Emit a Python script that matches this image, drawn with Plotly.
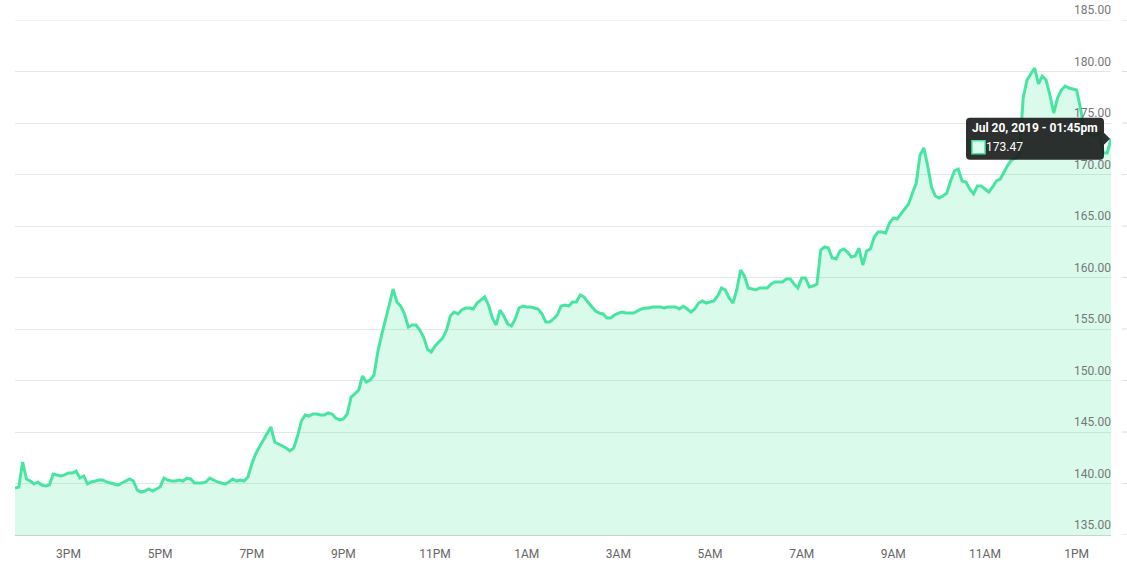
import pandas as pd
import plotly.graph_objects as go

# ---- data ----
start_time = "2019-07-19 13:50"
interval = "5min"
prices = [
    139.56, 139.66, 142.09, 140.44, 140.24, 139.95, 140.15, 139.85, 139.76, 139.85,
    140.92, 140.83, 140.73, 140.83, 141.02, 141.02, 141.21, 140.53, 140.73, 139.95,
    140.15, 140.24, 140.34, 140.34, 140.15, 140.05, 139.95, 139.85, 140.05, 140.24,
    140.44, 140.24, 139.37, 139.17, 139.27, 139.47, 139.27, 139.47, 139.66, 140.53,
    140.34, 140.24, 140.24, 140.34, 140.24, 140.53, 140.44, 140.05, 140.05, 140.05,
    140.15, 140.53, 140.34, 140.15, 140.05, 139.95, 140.15, 140.44, 140.24, 140.34,
    140.24, 140.63, 141.89, 142.86, 143.54, 144.22, 144.90, 145.49, 144.03, 143.83,
    143.64, 143.45, 143.16, 143.45, 144.61, 146.07, 146.65, 146.55, 146.75, 146.75,
    146.65, 146.65, 146.85, 146.75, 146.36, 146.17, 146.26, 146.75, 148.40, 148.69,
    149.08, 150.44, 149.86, 150.05, 150.53, 152.77, 154.42, 155.78, 157.33, 158.88,
    157.62, 157.23, 156.46, 155.19, 155.39, 155.39, 154.90, 154.22, 153.06, 152.77,
    153.35, 153.74, 154.13, 154.90, 156.26, 156.65, 156.46, 156.84, 157.04, 157.04,
    156.94, 157.52, 157.82, 158.11, 157.33, 156.07, 155.39, 156.84, 156.26, 155.49,
    155.29, 155.97, 157.04, 157.23, 157.14, 157.14, 157.04, 156.94, 156.46, 155.68,
    155.68, 155.97, 156.36, 157.23, 157.33, 157.23, 157.62, 157.62, 158.30,
    158.11, 157.62, 157.14, 156.75, 156.55, 156.46, 156.07, 156.07, 156.36, 156.55,
    156.65, 156.55, 156.55, 156.55, 156.75, 156.94, 157.04, 157.04, 157.14, 157.14,
    157.14, 157.04, 157.14, 157.14, 157.14, 156.94, 157.23, 156.94, 156.65, 156.94,
    157.52, 157.72, 157.52, 157.62, 157.72, 158.20, 158.98, 158.79, 158.01, 157.52,
    158.79, 160.73, 160.15, 158.98, 158.88, 158.79, 158.98, 158.98, 158.98, 159.37,
    159.56, 159.56, 159.56, 159.86, 159.86, 159.37, 158.98, 159.95, 159.95, 159.08,
    159.17, 159.37, 162.67, 162.96, 162.86, 161.89, 161.80, 162.57, 162.77, 162.48,
    161.99, 162.09, 162.86, 161.21, 162.57, 162.77, 163.93, 164.42, 164.42, 164.32,
    165.29, 165.78, 165.68, 166.17, 166.65, 167.14, 168.20, 169.17, 171.89, 172.57,
    170.83, 168.79, 167.91, 167.72, 167.91, 168.20, 169.37, 170.34, 170.53, 169.37,
    169.27, 168.59, 168.11, 168.88, 168.88, 168.59, 168.30, 168.79, 169.37, 169.56,
    170.24, 170.92, 171.41, 171.60, 171.89, 177.43, 179.17, 179.76, 180.34, 178.79,
    179.56, 179.17, 177.72, 175.97, 177.43, 178.20, 178.59, 178.40, 178.30, 178.20,
    176.46, 174.32, 173.93, 173.83, 173.74, 174.03, 172.09, 172.09, 173.47,
]
x_tick_times = [
    "2019-07-19 15:00", "2019-07-19 17:00", "2019-07-19 19:00", "2019-07-19 21:00",
    "2019-07-19 23:00", "2019-07-20 01:00", "2019-07-20 03:00", "2019-07-20 05:00",
    "2019-07-20 07:00", "2019-07-20 09:00", "2019-07-20 11:00", "2019-07-20 13:00",
]
x_tick_labels = ["3PM", "5PM", "7PM", "9PM", "11PM", "1AM", "3AM", "5AM",
                 "7AM", "9AM", "11AM", "1PM"]
y_ticks = [135, 140, 145, 150, 155, 160, 165, 170, 175, 180, 185]
tooltip_title = "Jul 20, 2019 - 01:45pm"

times = pd.date_range(start_time, periods=len(prices), freq=interval)

LINE = "#48e5a2"
FILL = "rgba(72,229,160,0.2)"
FONT = "Roboto"
TIP_BG = "rgba(28,30,29,0.92)"
GRID = "#e6e6e6"

fig = go.Figure()
fig.add_trace(go.Scatter(
    x=times, y=prices, mode="lines",
    line=dict(color=LINE, width=3),
    fill="tozeroy", fillcolor=FILL,
    hoverinfo="skip",
))

last_t = times[-1]
last_v = prices[-1]

shapes = []
# top gridline (at the very edge of the range)
shapes.append(dict(type="line", xref="paper", yref="y", x0=0, x1=1,
                   y0=y_ticks[-1], y1=y_ticks[-1], layer="below",
                   line=dict(color=GRID, width=1)))
# small outside tick marks to the right of the plot
for v in y_ticks:
    shapes.append(dict(type="line", xref="paper", yref="y", x0=1.0100, x1=1.0146,
                       y0=v, y1=v, line=dict(color="#dedede", width=1)))

# tooltip box (rounded) with pointer, in pixels relative to the last point
L, R, T, B, r = -145, -7, 21, -21, 4
tip_path = (
    f"M {L + r},{T} L {R - r},{T} Q {R},{T} {R},{T - r} "
    f"L {R},6 L -1,0 L {R},-6 "
    f"L {R},{B + r} Q {R},{B} {R - r},{B} "
    f"L {L + r},{B} Q {L},{B} {L},{B + r} "
    f"L {L},{T - r} Q {L},{T} {L + r},{T} Z"
)
shapes.append(dict(type="path", xref="x", yref="y", xsizemode="pixel", ysizemode="pixel",
                   xanchor=last_t, yanchor=last_v, path=tip_path,
                   fillcolor=TIP_BG, line=dict(width=0)))
# tooltip swatch
shapes.append(dict(type="rect", xref="x", yref="y", xsizemode="pixel", ysizemode="pixel",
                   xanchor=last_t, yanchor=last_v,
                   x0=-139, x1=-126, y0=-15, y1=-2,
                   fillcolor="#dcfaee", line=dict(color=LINE, width=1.5)))

annotations = []
# y tick labels sitting just above each gridline, right-aligned at the plot edge
for v in y_ticks:
    annotations.append(dict(x=1, y=v, xref="paper", yref="y", text=f"{v:.2f}",
                            showarrow=False, xanchor="right", yanchor="middle",
                            xshift=1, yshift=10, borderpad=0,
                            font=dict(family=FONT, size=12, color="#777")))
annotations += [
    dict(x=last_t, y=last_v, xref="x", yref="y", text="<b>" + tooltip_title + "</b>",
         showarrow=False, xanchor="left", yanchor="middle", xshift=-141, yshift=11,
         font=dict(family=FONT, size=12, color="white")),
    dict(x=last_t, y=last_v, xref="x", yref="y", text=f"{last_v:.2f}",
         showarrow=False, xanchor="left", yanchor="middle", xshift=-127, yshift=-8,
         font=dict(family=FONT, size=12, color="white")),
]

fig.update_layout(
    width=1127, height=563,
    margin=dict(l=15, r=16, t=20, b=28),
    paper_bgcolor="white", plot_bgcolor="white",
    showlegend=False, hovermode=False,
    font=dict(family=FONT, size=12, color="#666"),
    shapes=shapes, annotations=annotations,
    xaxis=dict(
        range=[times[0], times[-1]],
        tickvals=pd.to_datetime(x_tick_times), ticktext=x_tick_labels,
        showgrid=False, zeroline=False, automargin=False,
        showline=True, linecolor="#d0d0d0", linewidth=1,
        ticks="", ticklabelstandoff=8,
        tickfont=dict(family=FONT, size=12, color="#666"),
        fixedrange=True,
    ),
    yaxis=dict(
        range=[135, 185], side="right", automargin=False,
        tickvals=y_ticks, showticklabels=False,
        showgrid=True, gridcolor=GRID, gridwidth=1,
        zeroline=False, showline=False, ticks="",
        fixedrange=True,
    ),
)

fig.write_html("out.html", config={"displayModeBar": False},
               post_script="document.body.style.margin='0';")
